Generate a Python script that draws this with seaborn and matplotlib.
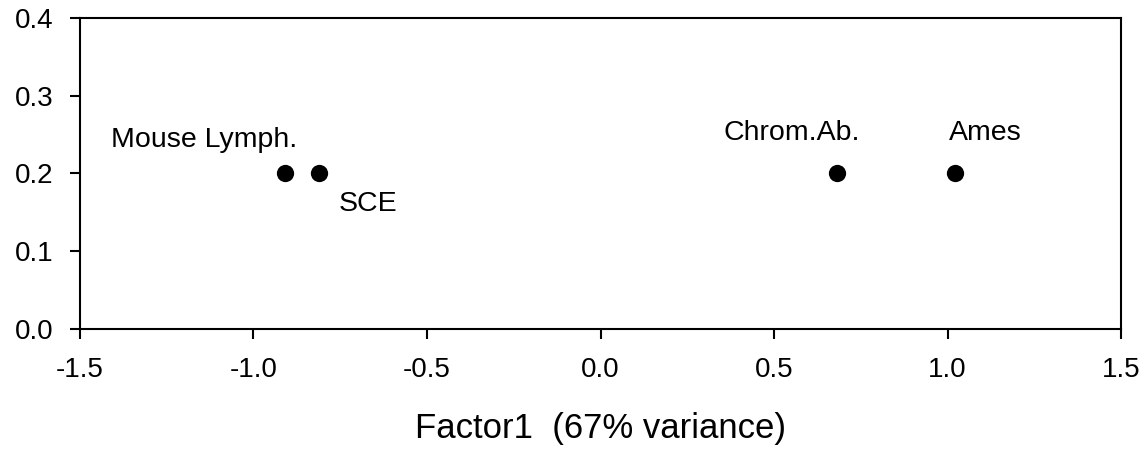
import matplotlib
matplotlib.use("Agg")
import matplotlib.pyplot as plt
import seaborn as sns
import pandas as pd

# %%
# Factor scores of the genotoxicity assays
assays = ["Mouse Lymph.", "SCE", "Chrom.Ab.", "Ames"]
factor1 = [-0.91, -0.81, 0.68, 1.02]
factor2 = [0.2, 0.2, 0.2, 0.2]

df = pd.DataFrame({"assay": assays, "factor1": factor1, "factor2": factor2})

# label placement (offset in points, horizontal alignment)
label_pos = {
    "Mouse Lymph.": ((-58, 24), "center"),
    "SCE": ((14, -22), "left"),
    "Chrom.Ab.": ((-32, 29), "center"),
    "Ames": ((22, 29), "center"),
}

# %%
sns.set_style("ticks")
plt.rcParams["font.family"] = ["Liberation Sans", "DejaVu Sans"]

fig = plt.figure(figsize=(11.44, 4.5), dpi=100)
ax = fig.add_axes([0.0699, 0.269, 0.9101, 0.691])
sns.scatterplot(x="factor1", y="factor2", data=df, ax=ax, color="black",
                s=155, edgecolor="black", linewidth=0, zorder=3)

for _, row in df.iterrows():
    offset, ha = label_pos[row["assay"]]
    ax.annotate(row["assay"], (row["factor1"], row["factor2"]),
                xytext=offset, textcoords="offset points",
                ha=ha, va="center", fontsize=20.5, color="black")

ax.set_xlim(-1.5, 1.5)
ax.set_ylim(0, 0.4)
ax.set_xticks([-1.5, -1.0, -0.5, 0.0, 0.5, 1.0, 1.5])
ax.set_yticks([0.0, 0.1, 0.2, 0.3, 0.4])
ax.xaxis.set_major_formatter(matplotlib.ticker.FormatStrFormatter("%.1f"))
ax.yaxis.set_major_formatter(matplotlib.ticker.FormatStrFormatter("%.1f"))
ax.tick_params(axis="both", labelsize=20, length=7, width=1.5, colors="black",
               direction="out")
ax.tick_params(axis="x", pad=13)
ax.tick_params(axis="y", pad=12)
for sp in ax.spines.values():
    sp.set_linewidth(1.5)
    sp.set_color("black")
ax.set_xlabel("Factor1  (67% variance)", fontsize=25, labelpad=21, color="black")
ax.set_ylabel("")

plt.savefig("out.png", dpi=100)
